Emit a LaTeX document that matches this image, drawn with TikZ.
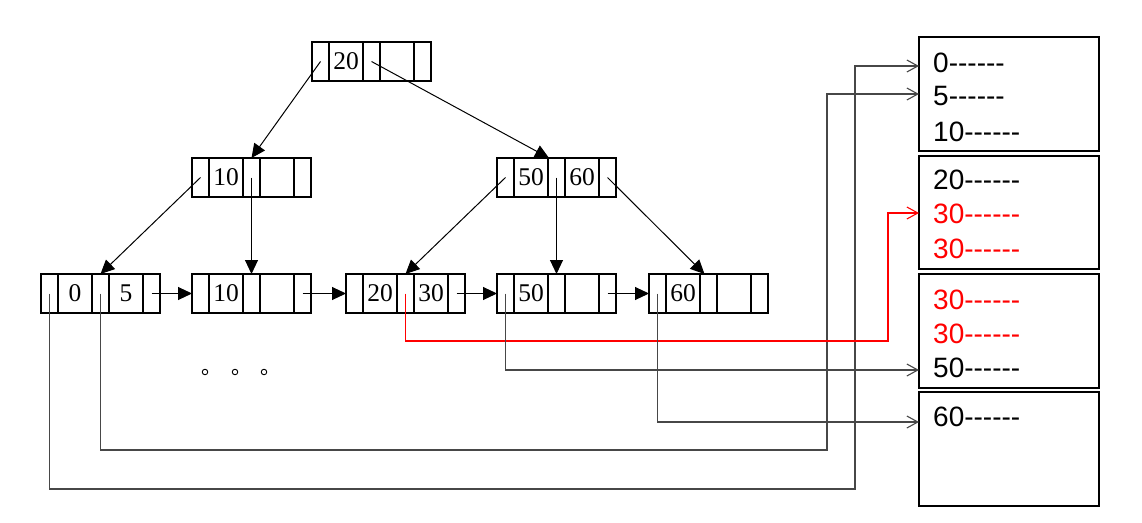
\documentclass[tikz,border=0pt]{standalone}
\usepackage{fontspec}
\setmainfont{Liberation Serif}
\newfontfamily\boxfont{Liberation Sans}
\usetikzlibrary{arrows.meta,calc}
\newcommand\dd{-\kern0pt-\kern0pt-\kern0pt-\kern0pt-\kern0pt-}
\newcommand\btnode[5]{%
  \node[pc,anchor=north west] (#1p1) at (#2,#3) {};
  \node[kc,anchor=west] (#1k1) at (#1p1.east) {#4};
  \node[pc,anchor=west] (#1p2) at (#1k1.east) {};
  \node[kc,anchor=west] (#1k2) at (#1p2.east) {#5};
  \node[pc,anchor=west] (#1p3) at (#1k2.east) {};
}
\begin{document}
\begin{tikzpicture}[x=1pt,y=-1pt,
  cell/.style={draw,line width=1.1pt,inner sep=0pt,outer sep=0pt,minimum height=39pt,
    font=\fontsize{25.5}{25.5}\selectfont},
  pc/.style={cell,minimum width=17pt},
  kc/.style={cell,minimum width=34pt},
  tree/.style={line width=1pt,-{Triangle[length=14pt,width=13pt]}},
  ptr/.style={line width=1.1pt,draw=black!72,-{Straight Barb[length=11pt,width=12pt,line width=1.1pt]}},
  rptr/.style={ptr,draw=red},
  rbox/.style={draw,line width=1.2pt,anchor=north west,minimum width=180pt,inner sep=0pt,outer sep=0pt},
  btxt/.style={anchor=west,inner sep=0pt,font=\boxfont\fontsize{28}{28}\selectfont},
  dot/.style={circle,draw,line width=0.9pt,minimum size=5.5pt,inner sep=0pt}
]
\useasboundingbox (0,0) rectangle (1142,522);

% tree nodes
\btnode{root}{312}{42}{20}{}
\btnode{n10}{192}{158}{10}{}
\btnode{n56}{497}{158}{50}{60}
\btnode{l1}{41}{274}{0}{5}
\btnode{l2}{192}{274}{10}{}
\btnode{l3}{346}{274}{20}{30}
\btnode{l4}{497}{274}{50}{}
\btnode{l5}{649}{274}{60}{}

% tree arrows
\draw[tree] (rootp1.center) -- (n10p2.north);
\draw[tree] (rootp2.center) -- ($(n56p2.north west)+(1,0)$);
\draw[tree] (n10p1.center) -- (l1p2.north);
\draw[tree] (n10p2.center) -- (l2p2.north);
\draw[tree] (n56p1.center) -- (l3p2.north);
\draw[tree] (n56p2.center) -- (l4p2.north);
\draw[tree] (n56p3.center) -- ($(l5p2.north)+(-4,0)$);

% leaf links
\draw[tree] (l1p3.center) -- (l2p1.west);
\draw[tree] (l2p3.center) -- (l3p1.west);
\draw[tree] (l3p3.center) -- (l4p1.west);
\draw[tree] (l4p3.center) -- (l5p1.west);

% dots
\node[dot] (d1) at (205,372) {};
\node[dot] (d2) at (235,372) {};
\node[dot] (d3) at (264,372) {};

% data boxes
\node[rbox,minimum height=114pt] (box1) at (919,37) {};
\node[rbox,minimum height=113pt] (box2) at (919,156) {};
\node[rbox,minimum height=114pt] (box3) at (919,274) {};
\node[rbox,minimum height=114pt] (box4) at (919,392) {};

\node[btxt] (t0) at (933,63) {0\dd};
\node[btxt] (t1) at (933,96) {5\dd};
\node[btxt] (t2) at (933,132) {10\dd};
\node[btxt] (t3) at (933,180) {20\dd};
\node[btxt,text=red] (t4) at (933,214) {30\dd};
\node[btxt,text=red] (t5) at (933,249) {30\dd};
\node[btxt,text=red] (t6) at (933,300) {30\dd};
\node[btxt,text=red] (t7) at (933,334) {30\dd};
\node[btxt] (t8) at (933,368) {50\dd};
\node[btxt] (t9) at (933,417) {60\dd};

% pointer routes
\coordinate (r1) at (855,489);
\coordinate (r2) at (827,450);
\coordinate (r3) at (888,341);
\draw[ptr] (l1p1.center) |- (r1) |- ($(t0 -| box1.west)+(0,3)$);
\draw[ptr] (l1p2.center) |- (r2) |- ($(t1 -| box1.west)+(0,-2)$);
\draw[rptr] (l3p2.center) |- (r3) |- ($(t4 -| box2.west)+(0,-1)$);
\draw[ptr] (l4p1.center) |- ($(t8 -| box3.west)+(0,2)$);
\draw[ptr] (l5p1.center) |- ($(t9 -| box4.west)+(0,5)$);
\end{tikzpicture}
\end{document}
